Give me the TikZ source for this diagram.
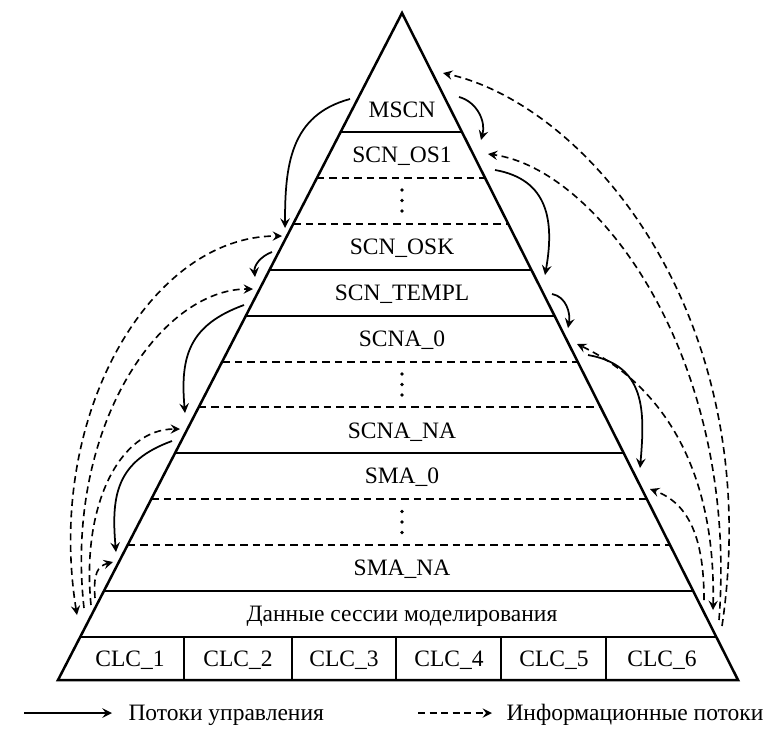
\documentclass[tikz,border=0pt]{standalone}
\usepackage{fontspec}
\setmainfont{Liberation Serif}
\usetikzlibrary{arrows,calc}

\begin{document}
\begin{tikzpicture}[x=0.4pt, y=0.4pt, font=\fontsize{9.4}{11}\selectfont,
    lvl/.style={inner sep=0pt, text height=6.2pt, text depth=0pt},
    rowdash/.style={dash pattern=on 3pt off 2pt},
    ctrl/.style={->, >=stealth, line width=0.7pt},
    info/.style={->, >=stealth, line width=0.65pt, dash pattern=on 2.8pt off 1.8pt}]

    \useasboundingbox (0,0) rectangle (771,736);

    % pyramid
    \coordinate (apex) at (402,723);
    \coordinate (bl) at (58,56);
    \coordinate (br) at (738,56);
    \draw[line width=1pt] (apex) -- (bl) -- (br) -- cycle;

    % layer borders
    \foreach \k/\ls in {0/solid,1/rowdash,2/rowdash,3/solid,4/solid,5/rowdash,
                        6/rowdash,7/solid,8/rowdash,9/rowdash,10/solid,11/solid} {
        \pgfmathsetmacro\pos{(119+45.9*\k)/667}
        \draw[line width=0.8pt, \ls] ($(apex)!\pos!(bl)$) -- ($(apex)!\pos!(br)$);
    }
    \foreach \x in {184,292,396,501,606}
        \draw[line width=0.8pt] (\x,56) -- (\x,99.1);

    % levels
    \node[lvl] (mscn) at (402,626.5) {MSCN};
    \node[lvl] (os1) at (402,581) {SCN\_OS1};
    \node[lvl] (osk) at (402,489) {SCN\_OSK};
    \node[lvl] (templ) at (402,443) {SCN\_TEMPL};
    \node[lvl] (scna0) at (402,397) {SCNA\_0};
    \node[lvl] (scnana) at (402,305.5) {SCNA\_NA};
    \node[lvl] (sma0) at (402,260) {SMA\_0};
    \node[lvl] (smana) at (402,168) {SMA\_NA};
    \node[lvl] (data) at (402,122) {Данные сессии моделирования};

    % vertical dots
    \foreach \y in {535.5,351.5,214}
        \foreach \d in {-10.5,0,10.5}
            \fill (402,\y+\d) circle (1.9);

    \node[lvl] (clc1) at (130,77.5) {CLC\_1};
    \node[lvl] (clc2) at (238,77.5) {CLC\_2};
    \node[lvl] (clc3) at (344,77.5) {CLC\_3};
    \node[lvl] (clc4) at (449,77.5) {CLC\_4};
    \node[lvl] (clc5) at (554,77.5) {CLC\_5};
    \node[lvl] (clc6) at (662,77.5) {CLC\_6};

    % connector ends, left side
    \coordinate (mscnL-out) at (350,637);
    \coordinate (oskL-in) at (285,508);
    \coordinate (oskL-info) at (282,500);
    \coordinate (oskL-out) at (272,484);
    \coordinate (templL-in) at (255,459);
    \coordinate (templL-info) at (253,447);
    \coordinate (templL-out) at (244,431);
    \coordinate (scnanaL-in) at (185,323);
    \coordinate (scnanaL-info) at (180,307);
    \coordinate (scnanaL-out) at (172,295);
    \coordinate (smanaL-in) at (116,184);
    \coordinate (smanaL-info) at (113,174);
    \coordinate (dataL1) at (77,121);
    \coordinate (dataL2) at (84,128);
    \coordinate (dataL3) at (91,131);
    \coordinate (dataL4) at (95,138);

    % connector ends, right side
    \coordinate (mscnR-out) at (459,639);
    \coordinate (mscnR-info) at (443,663);
    \coordinate (os1R-in) at (481,596);
    \coordinate (os1R-info) at (488,582);
    \coordinate (os1R-out) at (495,566);
    \coordinate (templR-in) at (545,461);
    \coordinate (templR-out) at (552,442);
    \coordinate (scna0R-in) at (568,408);
    \coordinate (scna0R-info) at (577,392);
    \coordinate (scna0R-out) at (588,381);
    \coordinate (sma0R-in) at (640,268);
    \coordinate (sma0R-info) at (650,247);
    \coordinate (dataR1) at (722,110);
    \coordinate (dataR2) at (719,116);
    \coordinate (dataR3) at (713,126);
    \coordinate (dataR4) at (704,136);

    % control flows
    \draw[ctrl] (mscnL-out) to[out=195, in=90, looseness=1.1] (oskL-in);
    \draw[ctrl] (oskL-out) to[out=200, in=95] (templL-in);
    \draw[ctrl] (templL-out) to[out=200, in=95, looseness=1.2] (scnanaL-in);
    \draw[ctrl] (scnanaL-out) to[out=200, in=95, looseness=1.2] (smanaL-in);
    \draw[ctrl] (mscnR-out) to[out=-15, in=75] (os1R-in);
    \draw[ctrl] (os1R-out) to[out=-10, in=80, looseness=1.2] (templR-in);
    \draw[ctrl] (templR-out) to[out=-10, in=80] (scna0R-in);
    \draw[ctrl] (scna0R-out) to[out=-10, in=85, looseness=1.2] (sma0R-in);

    % information flows
    \draw[info, <->] (dataL1) .. controls +(-32,199) and +(-132,0) .. (oskL-info);
    \draw[info] (dataL2) .. controls +(-20,180) and +(-93,0) .. (templL-info);
    \draw[info] (dataL3) .. controls +(-10,100) and +(-60,0) .. (scnanaL-info);
    \draw[info] (dataL4) .. controls +(-2,25) and +(-15,-4) .. (smanaL-info);
    \draw[info] (dataR1) .. controls +(45,305) and +(147,-33) .. (mscnR-info);
    \draw[info] (dataR2) .. controls +(20,262) and +(110,-15) .. (os1R-info);
    \draw[info, <->] (dataR3) .. controls +(3,144) and +(83,-40) .. (scna0R-info);
    \draw[info] (dataR4) .. controls +(0,60) and +(40,-15) .. (sma0R-info);

    % legend
    \coordinate (legc-a) at (24,23);
    \coordinate (legc-b) at (112,23);
    \coordinate (legi-a) at (418,23);
    \coordinate (legi-b) at (492,23);
    \node[lvl, anchor=west] (leg-ctrl) at (128,23) {Потоки управления};
    \node[lvl, anchor=west] (leg-info) at (506,23) {Информационные потоки};
    \draw[ctrl] (legc-a) -- (legc-b);
    \draw[info] (legi-a) -- (legi-b);

\end{tikzpicture}
\end{document}
